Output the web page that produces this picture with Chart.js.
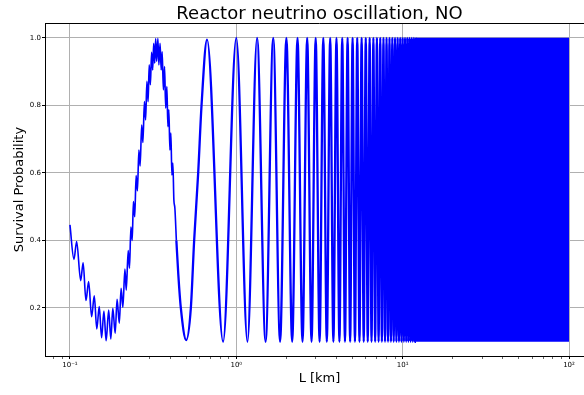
<!DOCTYPE html>
<html>
<head>
<meta charset="utf-8">
<script src="https://cdn.jsdelivr.net/npm/chart.js@4.4.0/dist/chart.umd.min.js"></script>
<style>
html, body { margin: 0; padding: 0; overflow: hidden; background: #fff; }
#wrap { width: 620px; height: 395px; }
</style>
</head>
<body>
<div id="wrap"><canvas id="myChart" width="620" height="395"></canvas></div>
<script>
// first trough + first peak, fast wiggles still resolved (L in km)
const wiggleL = [0.1, 0.1057, 0.1097, 0.116, 0.12, 0.1248, 0.1295, 0.135, 0.14, 0.145,
    0.15, 0.155, 0.16, 0.165, 0.171, 0.176, 0.181, 0.187, 0.192, 0.198,
    0.203, 0.208, 0.214, 0.218, 0.224, 0.228,
    0.2325, 0.2367, 0.2407, 0.2451, 0.2499, 0.2544, 0.2597, 0.2641, 0.27, 0.2745,
    0.2803, 0.285, 0.2901, 0.295, 0.2995, 0.3045, 0.3096, 0.3143, 0.3187, 0.3231,
    0.3276, 0.3321, 0.3377, 0.3424, 0.3481, 0.3535, 0.3584, 0.3644, 0.3705, 0.3762,
    0.3825, 0.3878, 0.3932, 0.3987, 0.4043, 0.4099, 0.4156, 0.4214, 0.4272, 0.4362];
const wiggleP = [0.446, 0.344, 0.397, 0.281, 0.334, 0.222, 0.278, 0.174, 0.236, 0.138,
    0.204, 0.112, 0.191, 0.103, 0.194, 0.108, 0.199, 0.125, 0.226, 0.155,
    0.258, 0.202, 0.315, 0.253, 0.370, 0.318,
    0.44, 0.40, 0.515, 0.47, 0.592, 0.547, 0.668, 0.621, 0.742, 0.69,
    0.811, 0.757, 0.871, 0.811, 0.92, 0.861, 0.957, 0.905, 0.984, 0.925,
    0.998, 0.93, 0.999, 0.92, 0.984, 0.905, 0.959, 0.846, 0.915, 0.792,
    0.856, 0.737, 0.787, 0.668, 0.718, 0.594, 0.629, 0.52, 0.496, 0.40];

// second trough and rise to second peak
const archL = [0.4362, 0.448, 0.464, 0.5, 0.533, 0.558, 0.59, 0.618, 0.667];
const archP = [0.40, 0.3, 0.2, 0.105, 0.2, 0.4, 0.6, 0.8, 0.995];

// slow oscillation extremes up to ~12 km
const troughL = [0.833, 1.167, 1.5, 1.833, 2.167, 2.5, 2.833, 3.167, 3.5, 3.833,
    4.167, 4.5, 4.833, 5.167, 5.5, 5.833, 6.167, 6.5, 6.833, 7.167,
    7.5, 7.833, 8.167, 8.5, 8.833, 9.167, 9.5, 9.833, 10.167, 10.5,
    10.833, 11.167, 11.5, 11.833];
const peakL = [1.0, 1.333, 1.667, 2.0, 2.333, 2.667, 3.0, 3.333, 3.667, 4.0,
    4.333, 4.667, 5.0, 5.333, 5.667, 6.0, 6.333, 6.667, 7.0, 7.333,
    7.667, 8.0, 8.333, 8.667, 9.0, 9.333, 9.667, 10.0, 10.333, 10.667,
    11.0, 11.333, 11.667, 12.0];
const troughP = 0.1;
const peakP = 1.0;

// beyond ~12 km the oscillation is unresolved: solid band
const bandL = [12, 100];
const bandTop = [1.0, 1.0];
const bandBottom = [0.1, 0.1];

const yTicks = [0.2, 0.4, 0.6, 0.8, 1.0];
const xMajor = [0.1, 1, 10, 100];
const xMajorLabels = ['10\u207B\u00B9', '10\u2070', '10\u00B9', '10\u00B2'];
const xMinor = [0.08, 0.09, 0.2, 0.3, 0.4, 0.5, 0.6, 0.7, 0.8, 0.9,
    2, 3, 4, 5, 6, 7, 8, 9, 20, 30, 40, 50, 60, 70, 80, 90];

const fine = wiggleL.map((x, i) => ({ x: x, y: wiggleP[i] }));
let coarse = archL.map((x, i) => ({ x: x, y: archP[i] }));
troughL.forEach(x => coarse.push({ x: x, y: troughP }));
peakL.forEach(x => coarse.push({ x: x, y: peakP }));
coarse.sort((a, b) => a.x - b.x);

const topSpine = {
    id: 'topSpine',
    afterDatasetsDraw(chart) {
        const { ctx, chartArea } = chart;
        ctx.save();
        ctx.strokeStyle = '#000';
        ctx.lineWidth = 1;
        ctx.beginPath();
        ctx.moveTo(chartArea.left, chartArea.top + 0.5);
        ctx.lineTo(chartArea.right, chartArea.top + 0.5);
        ctx.stroke();
        ctx.restore();
    }
};

Chart.defaults.font.family = "'DejaVu Sans', sans-serif";
Chart.defaults.color = '#000';

new Chart(document.getElementById('myChart').getContext('2d'), {
    type: 'line',
    data: {
        datasets: [
            {
                data: bandL.map((x, i) => ({ x: x, y: bandTop[i] })),
                borderWidth: 0,
                pointRadius: 0,
                backgroundColor: '#0000ff',
                fill: '+1'
            },
            {
                data: bandL.map((x, i) => ({ x: x, y: bandBottom[i] })),
                borderWidth: 0,
                pointRadius: 0,
                fill: false
            },
            {
                data: fine,
                borderColor: '#0000ff',
                borderWidth: 1.6,
                pointRadius: 0,
                fill: false,
                cubicInterpolationMode: 'monotone'
            },
            {
                data: coarse,
                borderColor: '#0000ff',
                borderWidth: 2.3,
                pointRadius: 0,
                fill: false,
                cubicInterpolationMode: 'monotone'
            }
        ]
    },
    options: {
        responsive: false,
        animation: false,
        layout: { padding: { left: 0, right: 26, top: 0, bottom: 0 } },
        plugins: {
            legend: { display: false },
            tooltip: { enabled: false },
            title: {
                display: true,
                text: 'Reactor neutrino oscillation, NO',
                fullSize: false,
                font: { size: 18, weight: 'normal', lineHeight: 1.0 },
                color: '#000',
                padding: { top: 5, bottom: 0 }
            }
        },
        scales: {
            x: {
                type: 'logarithmic',
                min: 0.0708,
                max: 141.3,
                afterBuildTicks: (scale) => {
                    scale.ticks = xMajor.concat(xMinor).sort((a, b) => a - b)
                        .map(v => ({ value: v, major: xMajor.includes(v) }));
                },
                afterFit: (scale) => { scale.height = 39; },
                ticks: {
                    autoSkip: false,
                    maxRotation: 0,
                    padding: 2,
                    font: { size: 7 },
                    callback: (v) => {
                        const i = xMajor.indexOf(v);
                        return i >= 0 ? xMajorLabels[i] : '';
                    }
                },
                grid: {
                    color: (ctx) => (ctx.tick && xMajor.includes(ctx.tick.value)) ? '#b0b0b0' : 'rgba(0,0,0,0)',
                    tickColor: '#000',
                    tickLength: 3,
                    tickWidth: (ctx) => (ctx.tick && xMajor.includes(ctx.tick.value)) ? 1 : 0.6
                },
                border: { color: '#000', width: 1 },
                title: {
                    display: true,
                    text: 'L [km]',
                    font: { size: 13 },
                    color: '#000',
                    padding: { top: 0, bottom: 9 }
                }
            },
            y: {
                type: 'linear',
                min: 0.0578,
                max: 1.044,
                afterBuildTicks: (scale) => {
                    scale.ticks = yTicks.map(v => ({ value: v }));
                },
                afterFit: (scale) => { scale.width = 45; },
                ticks: {
                    padding: 1,
                    font: { size: 7 },
                    callback: (v) => v.toFixed(1)
                },
                grid: {
                    color: '#b0b0b0',
                    tickColor: '#000',
                    tickLength: 3
                },
                border: { color: '#000', width: 1 },
                title: {
                    display: true,
                    text: 'Survival Probability',
                    font: { size: 13 },
                    color: '#000',
                    padding: { top: 12, bottom: 0 }
                }
            }
        }
    },
    plugins: [topSpine]
});
</script>
</body>
</html>
